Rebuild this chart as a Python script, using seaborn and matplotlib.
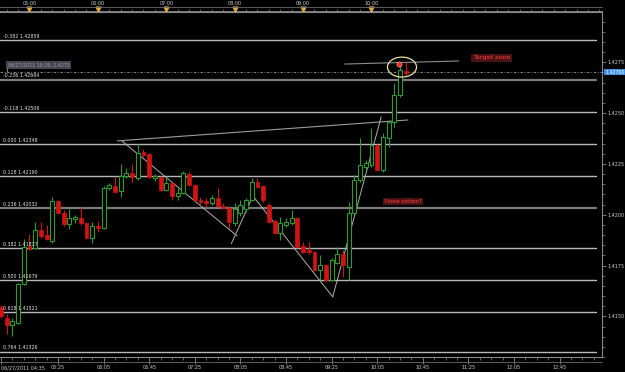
import matplotlib
matplotlib.use("Agg")
import matplotlib.pyplot as plt
import matplotlib.transforms as mtransforms
from matplotlib.patches import Ellipse, Rectangle
from matplotlib.lines import Line2D
import seaborn as sns
import numpy as np
import pandas as pd

# ---------------- data ----------------
opens = [1.41547, 1.41493, 1.41459, 1.41468, 1.41660, 1.41847, 1.41837, 1.41925, 1.41901, 1.41871,
         1.42068, 1.42009, 1.41955, 1.41979, 1.41984, 1.41960, 1.41886, 1.41945, 1.41935, 1.42132,
         1.42142, 1.42117, 1.42191, 1.42205, 1.42181, 1.42309, 1.42299, 1.42181, 1.42186, 1.42122,
         1.42156, 1.42092, 1.42107, 1.42201, 1.42147, 1.42073, 1.42068, 1.42058, 1.42083, 1.42043,
         1.42034, 1.41960, 1.42009, 1.42029, 1.42073, 1.42161, 1.42142, 1.42048, 1.41970, 1.41911,
         1.41950, 1.41960, 1.41984, 1.41847, 1.41827, 1.41817, 1.41729, 1.41753, 1.41680, 1.41763,
         1.41807, 1.41744, 1.42009, 1.42171, 1.42235, 1.42245, 1.42343, 1.42220, 1.42377, 1.42456,
         1.42589, 1.42707]
highs = [1.41557, 1.41513, 1.41493, 1.41665, 1.41881, 1.41906, 1.41965, 1.41965, 1.41950, 1.42088,
         1.42073, 1.42024, 1.42029, 1.41999, 1.42038, 1.41965, 1.41965, 1.41970, 1.42142, 1.42156,
         1.42186, 1.42250, 1.42230, 1.42250, 1.42348, 1.42323, 1.42304, 1.42201, 1.42191, 1.42181,
         1.42161, 1.42132, 1.42215, 1.42210, 1.42151, 1.42088, 1.42083, 1.42097, 1.42132, 1.42058,
         1.42043, 1.42058, 1.42073, 1.42083, 1.42181, 1.42181, 1.42147, 1.42058, 1.41975, 1.41989,
         1.41984, 1.42024, 1.41989, 1.41866, 1.41866, 1.41822, 1.41803, 1.41758, 1.41788, 1.41842,
         1.41827, 1.42063, 1.42196, 1.42377, 1.42269, 1.42427, 1.42348, 1.42402, 1.42466, 1.42648,
         1.42746, 1.42751]
lows = [1.41493, 1.41414, 1.41405, 1.41463, 1.41655, 1.41827, 1.41832, 1.41886, 1.41876, 1.41862,
        1.42004, 1.41945, 1.41930, 1.41960, 1.41950, 1.41881, 1.41862, 1.41916, 1.41930, 1.42122,
        1.42107, 1.42088, 1.42181, 1.42161, 1.42171, 1.42284, 1.42181, 1.42166, 1.42117, 1.42117,
        1.42073, 1.42073, 1.42102, 1.42142, 1.42068, 1.42048, 1.42038, 1.42048, 1.42038, 1.42029,
        1.41935, 1.41945, 1.41994, 1.42014, 1.42068, 1.42132, 1.42063, 1.41960, 1.41906, 1.41876,
        1.41940, 1.41950, 1.41837, 1.41812, 1.41807, 1.41724, 1.41680, 1.41675, 1.41675, 1.41758,
        1.41694, 1.41680, 1.42004, 1.42161, 1.42220, 1.42235, 1.42215, 1.42210, 1.42333, 1.42432,
        1.42579, 1.42682]
closes = [1.41503, 1.41459, 1.41478, 1.41660, 1.41842, 1.41832, 1.41925, 1.41896, 1.41881, 1.42068,
          1.42009, 1.41955, 1.41984, 1.41989, 1.41960, 1.41886, 1.41945, 1.41935, 1.42132, 1.42147,
          1.42112, 1.42191, 1.42205, 1.42186, 1.42304, 1.42294, 1.42186, 1.42191, 1.42122, 1.42156,
          1.42092, 1.42107, 1.42205, 1.42147, 1.42073, 1.42063, 1.42058, 1.42083, 1.42043, 1.42034,
          1.41965, 1.42029, 1.42048, 1.42073, 1.42161, 1.42137, 1.42073, 1.41965, 1.41911, 1.41960,
          1.41965, 1.41984, 1.41842, 1.41817, 1.41817, 1.41729, 1.41753, 1.41680, 1.41778, 1.41807,
          1.41753, 1.42009, 1.42171, 1.42245, 1.42255, 1.42343, 1.42220, 1.42382, 1.42456, 1.42589,
          1.42712, 1.42697]

fib_ratios = [-0.382, -0.236, -0.118, 0.000, 0.118, 0.236, 0.382, 0.500, 0.618, 0.764]
fib_prices = [1.42859, 1.42664, 1.42506, 1.42348, 1.42190, 1.42032, 1.41837, 1.41679, 1.41521, 1.41326]

top_labels = ["05:00", "06:00", "07:00", "08:00", "09:00", "10:00"]
top_pos = [5, 17, 29, 41, 53, 65]
bottom_labels = ["06/27/2011 04:35", "05:25", "06:05", "06:45", "07:25", "08:05", "08:45",
                 "09:25", "10:05", "10:45", "11:25", "12:05", "12:45"]
bottom_pos = [0, 10, 18, 26, 34, 42, 50, 58, 66, 74, 82, 90, 98]

price_ticks = [1.4150, 1.4175, 1.4200, 1.4225, 1.4250, 1.4275]
current_price = 1.42700

# drawn trend lines (bar index, price)
channel_x = [20.4, 71.4]
channel_y = [1.42363, 1.42466]
zig1_x = [21.2, 41.4]
zig1_y = [1.42363, 1.41896]
zig2_x = [40.4, 44.2]
zig2_y = [1.41857, 1.42092]
zig3_x = [44.2, 58.2]
zig3_y = [1.42092, 1.41596]
zig4_x = [58.2, 66.7]
zig4_y = [1.41596, 1.42481]
target_x = [60.3, 80.3]
target_y = [1.42741, 1.42756]

# ---------------- style ----------------
sns.set_theme(style="dark", rc={"axes.facecolor": "black", "figure.facecolor": "black",
                                "axes.edgecolor": "#8a8a8a", "grid.color": "black"})
plt.rcParams["font.family"] = ["DejaVu Sans"]

W, H = 625, 372
fig = plt.figure(figsize=(W / 100, H / 100), dpi=100)
ax = fig.add_axes([0, (H - 357) / H, 602 / W, 345 / H])
ax.set_facecolor("black")

n = len(opens)
df = pd.DataFrame({"i": np.arange(n), "open": opens, "high": highs, "low": lows, "close": closes})
df["up"] = df["close"] >= df["open"]

green = "#2f9a2f"
red = "#d01414"
bw = 0.68
lblc = "#cfcfcf"

# fib lines
for r, p in zip(fib_ratios, fib_prices):
    thick = r in (-0.236, 0.236)
    ax.axhline(p, xmin=0, xmax=596 / 602, color="#7c7c7c" if thick else "#b8b8b8",
               lw=1.6 if thick else 1.0, zorder=1)
    ax.text(0.3, p + 0.00006, f"{r:.3f} {p:.5f}", color="#e6e6e6", fontsize=3.4,
            va="bottom", ha="left", zorder=5)

# current price dash-dot line
ax.axhline(current_price, color="#9a9a9a", lw=0.6, ls=(0, (3, 2, 1, 2)), zorder=1)

# candles
for _, row in df.iterrows():
    c = green if row["up"] else red
    ax.vlines(row["i"], row["low"], row["high"], color=c, lw=0.8, zorder=3)
    lo = min(row["open"], row["close"])
    h = max(abs(row["close"] - row["open"]), 0.000015)
    if row["up"]:
        rect = Rectangle((row["i"] - bw / 2, lo), bw, h, facecolor="black", edgecolor=c, lw=0.8, zorder=4)
    else:
        rect = Rectangle((row["i"] - bw / 2, lo), bw, h, facecolor=c, edgecolor=c, lw=0.5, zorder=4)
    ax.add_patch(rect)

# trend lines
line_df = pd.DataFrame({"x": channel_x, "y": channel_y})
sns.lineplot(data=line_df, x="x", y="y", ax=ax, color="#9c9c9c", lw=0.8, zorder=2, sort=False)
for xs, ys in [(zig1_x, zig1_y), (zig2_x, zig2_y), (zig3_x, zig3_y), (zig4_x, zig4_y)]:
    sns.lineplot(x=xs, y=ys, ax=ax, color="#b0b0b0", lw=0.7, zorder=2, sort=False)
sns.lineplot(x=target_x, y=target_y, ax=ax, color="#8c8c8c", lw=0.8, zorder=2, sort=False)

# target ellipse and marker
ax.add_patch(Ellipse((70.35, 1.42726), 5.1, 0.00098, facecolor="none", edgecolor="#e4e4a0", lw=0.9, zorder=6))
sns.scatterplot(x=[69.8], y=[1.42741], ax=ax, color="#ff2a2a", s=14, edgecolor="#ffaaaa", linewidth=0.4, zorder=7)

# annotations
ax.text(86.1, 1.42771, "Target zone", color="#ff3b3b", fontsize=4.6, ha="center", va="center",
        bbox=dict(boxstyle="square,pad=0.25", facecolor="#4a1212", edgecolor="none"), zorder=8)
ax.text(70.5, 1.42063, "Y-bone pattern?", color="#ff3b3b", fontsize=3.4, ha="center", va="center",
        bbox=dict(boxstyle="square,pad=0.2", facecolor="#4a1212", edgecolor="none"), zorder=8)
ax.text(1.2, 1.42736, "06/27/2011 10:29, 1.4275", color="#9a9aae", fontsize=3.4, ha="left", va="center",
        bbox=dict(boxstyle="square,pad=0.3", facecolor="#464650", edgecolor="none"), zorder=8)
ax.vlines(1.05, current_price, 1.42720, color="#9a9aae", lw=0.6, zorder=8)

# axes limits
ax.set_xlim(-0.175, 105.44)
ax.set_ylim(1.41301, 1.42997)
ax.set_xlabel("")
ax.set_ylabel("")
ax.grid(False)
if ax.get_legend():
    ax.get_legend().remove()

# right price axis
ax.yaxis.tick_right()
ax.set_yticks(price_ticks)
ax.set_yticklabels([f"{t:.4f}" for t in price_ticks])
ax.set_yticks(np.arange(1.4130, 1.4300, 0.0005), minor=True)
ax.tick_params(axis="y", which="major", direction="out", length=3, width=0.6, color="#8a8a8a",
               labelsize=3.5, labelcolor=lblc, pad=1.0, right=True, left=False)
ax.tick_params(axis="y", which="minor", direction="out", length=2, width=0.5, color="#8a8a8a",
               right=True, left=False)

# bottom time axis
ax.set_xticks(bottom_pos)
ax.set_xticklabels(bottom_labels)
ax.set_xticks(np.arange(0, 106, 2), minor=True)
ax.tick_params(axis="x", which="major", direction="out", length=5, width=0.6, color="#8a8a8a",
               labelsize=3.5, labelcolor=lblc, pad=1, bottom=True)
ax.tick_params(axis="x", which="minor", direction="out", length=2.5, width=0.5, color="#8a8a8a", bottom=True)
for lbl in ax.get_xticklabels():
    if lbl.get_text().startswith("06/27"):
        lbl.set_ha("left")

# top time axis
top = ax.secondary_xaxis("top")
top.set_xticks(top_pos)
top.set_xticklabels(top_labels)
top.set_xticks(np.arange(1, 106, 2), minor=True)
top.tick_params(axis="x", which="major", direction="out", length=3.6, width=0.6, color="#8a8a8a",
                labelsize=3.5, labelcolor=lblc, pad=0.5)
top.tick_params(axis="x", which="minor", direction="out", length=2.5, width=0.5, color="#8a8a8a")
top.spines["top"].set_color("#8a8a8a")

trans = mtransforms.blended_transform_factory(ax.transData, ax.transAxes)
ax.plot(top_pos, [1.010] * len(top_pos), ls="none", marker="v", markersize=3.5,
        color="#d8a838", transform=trans, clip_on=False, zorder=10)

for s in ["top", "right", "bottom"]:
    ax.spines[s].set_visible(True)
    ax.spines[s].set_color("#8a8a8a")
    ax.spines[s].set_linewidth(0.8)
ax.spines["left"].set_visible(False)

# current price tag
ytrans = mtransforms.blended_transform_factory(ax.transAxes, ax.transData)
ax.text(1.005, current_price, "1.42700", transform=ytrans, color="white", fontsize=3.4,
        ha="left", va="center", clip_on=False, zorder=10,
        bbox=dict(boxstyle="square,pad=0.12", facecolor="#3a90e8", edgecolor="none"))

# outer frame lines
fig.add_artist(Line2D([0, 602 / W], [1 - 7 / H, 1 - 7 / H], color="#6a6a6a", lw=0.6))
fig.add_artist(Line2D([0, 602 / W], [1 - 362 / H, 1 - 362 / H], color="#6a6a6a", lw=0.6))

fig.savefig("out.png", dpi=100, facecolor="black")
